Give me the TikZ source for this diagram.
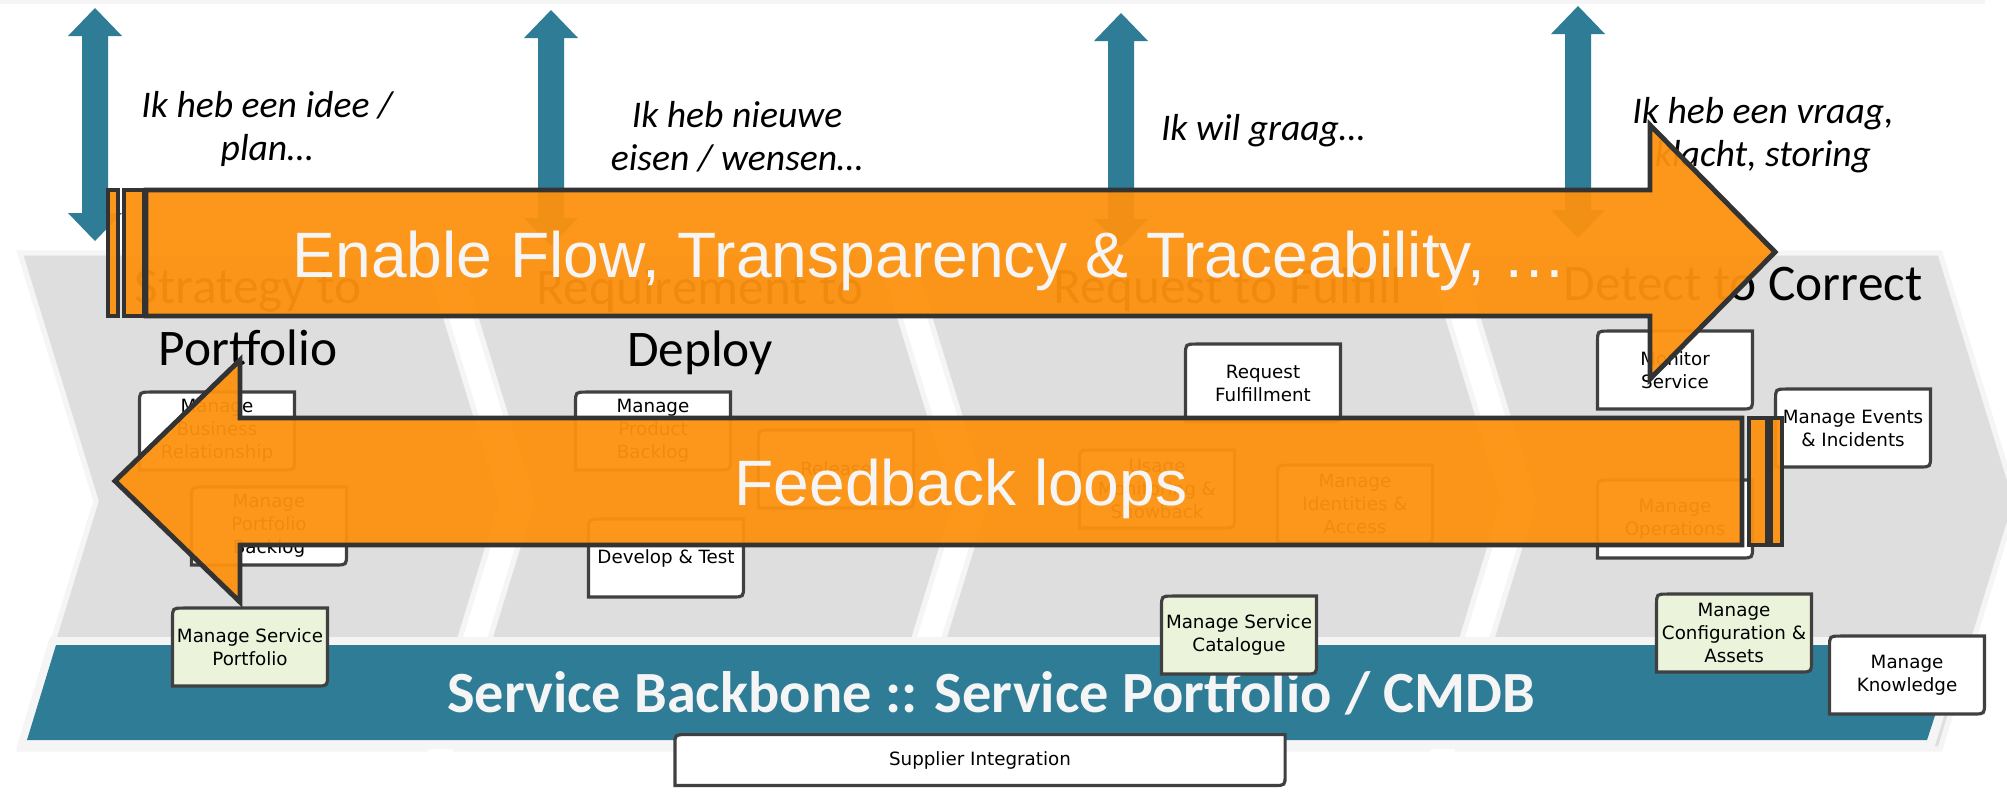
\documentclass[tikz,border=0pt]{standalone}
\usepackage{fontspec}
\setmainfont{Carlito}
\newfontfamily\arialfont{Liberation Sans}
\newfontfamily\verdfont{DejaVu Sans}
\usetikzlibrary{shapes,calc,positioning}
\definecolor{orng}{RGB}{253,146,15}
\definecolor{edge}{RGB}{51,51,51}
\definecolor{petrol}{RGB}{47,124,150}
\definecolor{chev}{RGB}{222,222,222}
\definecolor{boxedge}{RGB}{64,64,64}
\definecolor{lgreen}{RGB}{235,244,219}

\begin{document}
\begin{tikzpicture}[x=0.01cm, y=-0.01cm,
  pbox/.style={minimum width=1.58cm, minimum height=0.81cm, inner sep=0pt, align=center,
    font=\verdfont\fontsize{5.2}{6.55}\selectfont,
    path picture={\filldraw[draw=boxedge, line width=0.9pt, fill=#1]
      ([xshift=-0.45pt,yshift=-0.45pt]path picture bounding box.north east)
      -- ([xshift=3.5pt,yshift=-0.45pt]path picture bounding box.north west)
      .. controls ([xshift=0.45pt,yshift=-0.45pt]path picture bounding box.north west)
      .. ([xshift=0.45pt,yshift=-3.5pt]path picture bounding box.north west)
      -- ([xshift=0.45pt,yshift=0.45pt]path picture bounding box.south west)
      -- ([xshift=-3.5pt,yshift=0.45pt]path picture bounding box.south east)
      .. controls ([xshift=-0.45pt,yshift=0.45pt]path picture bounding box.south east)
      .. ([xshift=-0.45pt,yshift=3.5pt]path picture bounding box.south east)
      -- cycle;}},
  pbox/.default=white]
\tikzstyle{flow}=[fill=orng, fill opacity=0.95, draw=edge, line width=1.4pt, line join=miter]
\tikzstyle{big}=[inner sep=0pt, text=white!96!black, font=\arialfont\fontsize{18.25}{21}\selectfont]
\tikzstyle{ask}=[inner sep=0pt, align=center, font=\itshape\fontsize{10.7}{12.25}\selectfont]
\tikzstyle{phase}=[inner sep=0pt, align=center, font=\fontsize{14.6}{17.65}\selectfont]
\useasboundingbox (0,0) rectangle (2007,793);
\fill[white] (0,0) rectangle (2007,793);
\fill[black!4] (0,0) rectangle (1985,4);
\foreach \l/\r in {20/426,456/880,910/1428,1458/1940}
  \filldraw[fill=chev, draw=black!4, line width=1.5pt] (\l,253) -- (\r,253) -- (\r+76,501) -- (\r,749) -- (\l,749) -- (\l+76,501) -- cycle;
\fill[black!4] (50,637) -- (1968,637) -- (1934,749) -- (16,749) -- cycle;
\fill[petrol] (56,645) -- (1958,645) -- (1927,740) -- (27,740) -- cycle;
\node[inner sep=0pt, anchor=base, text=white!96!black, font=\bfseries\fontsize{16.6}{20}\selectfont] (sb) at (991,712) {Service Backbone :: Service Portfolio / CMDB};
\node[phase, anchor=north] (p1) at (248,269) {Strategy to\\Portfolio};
\node[phase, anchor=north] (p2) at (700,268) {Requirement to\\Deploy};
\node[phase, anchor=base] (p3) at (1228,303) {Request to Fulfill};
\node[phase, anchor=base] (p4) at (1743,300) {Detect to Correct};
\foreach \x/\t/\b in {95/8/241,551/10/246,1121/13/247,1578/6/238}
  \fill[petrol] (\x,\t) -- (\x+27,\t+28) -- (\x+13,\t+28) -- (\x+13,\b-28) -- (\x+27,\b-28) -- (\x,\b) -- (\x-27,\b-28) -- (\x-13,\b-28) -- (\x-13,\t+28) -- (\x-27,\t+28) -- cycle;
\node[ask, anchor=north] (q1) at (267,91) {Ik heb een idee /\\plan…};
\node[ask, anchor=north] (q2) at (737,101) {Ik heb nieuwe\\eisen / wensen…};
\node[ask, anchor=base] (q3) at (1263,140) {Ik wil graag…};
\node[ask, anchor=north] (q4) at (1763,97) {Ik heb een vraag,\\klacht, storing};
\node[pbox] (mbr) at (217,431) {Manage\\Business\\Relationship};
\node[pbox] (mpb) at (269,526) {Manage\\Portfolio\\Backlog};
\node[pbox=lgreen] (msp) at (250,647) {Manage Service\\Portfolio};
\node[pbox] (mprod) at (653,431) {Manage\\Product\\Backlog};
\node[pbox] (rel) at (836,469) {Release};
\node[pbox] (dev) at (666,558) {Develop \& Test};
\node[pbox] (reqf) at (1263,383) {Request\\Fulfillment};
\node[pbox] (usage) at (1157,489) {Usage\\Monitoring \&\\Showback};
\node[pbox] (ident) at (1355,504) {Manage\\Identities \&\\Access};
\node[pbox=lgreen] (cat) at (1239,635) {Manage Service\\Catalogue};
\node[pbox, minimum width=6.13cm, minimum height=0.54cm] (supp) at (980,760) {Supplier Integration};
\node[pbox] (mon) at (1675,370) {Monitor\\Service};
\node[pbox] (events) at (1853,428) {Manage Events\\\& Incidents};
\node[pbox] (ops) at (1675,519) {Manage\\Operations};
\node[pbox=lgreen] (config) at (1734,633) {Manage\\Configuration \&\\Assets};
\node[pbox] (know) at (1907,675) {Manage\\Knowledge};
\filldraw[flow] (108,190) rectangle (118,316);
\filldraw[flow] (124,190) rectangle (144,316);
\filldraw[flow] (146,190) -- (1650,190) -- (1650,125) -- (1775,252) -- (1650,379) -- (1650,316) -- (146,316) -- cycle;
\node[big, anchor=base] (enable) at (930,277) {Enable Flow, Transparency \& Traceability, …};
\filldraw[flow] (1742,418) -- (240,418) -- (240,360) -- (115,481) -- (240,602) -- (240,545) -- (1742,545) -- cycle;
\filldraw[flow] (1749,418) rectangle (1767,545);
\filldraw[flow] (1771,418) rectangle (1782,545);
\node[big, anchor=base] (fb) at (961,505) {Feedback loops};
\end{tikzpicture}
\end{document}
